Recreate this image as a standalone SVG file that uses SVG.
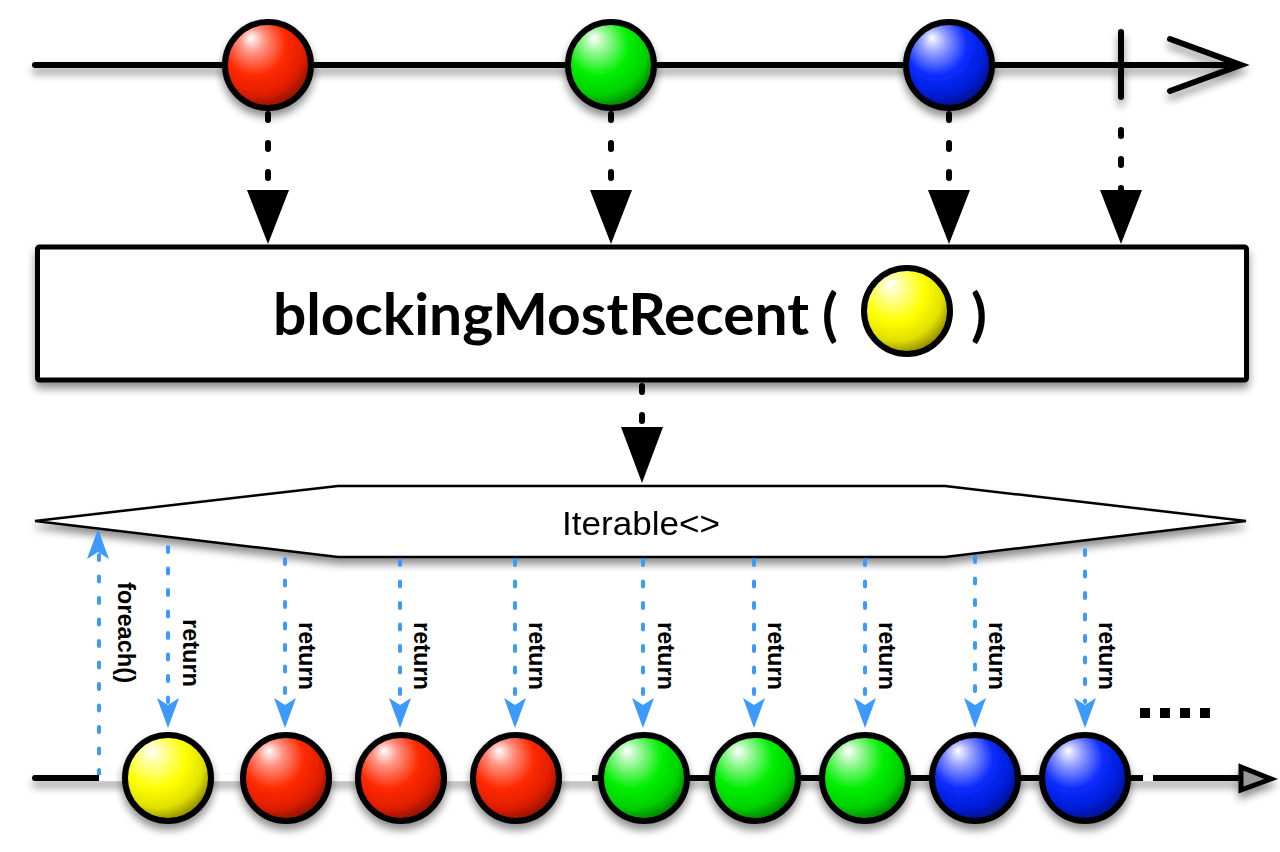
<svg xmlns="http://www.w3.org/2000/svg" width="1280" height="852" viewBox="0 0 1280 852">
<defs>
<filter id="sh" filterUnits="userSpaceOnUse" x="0" y="0" width="1280" height="852">
<feGaussianBlur in="SourceAlpha" stdDeviation="4"/>
<feOffset dy="6" result="o"/>
<feComponentTransfer><feFuncA type="linear" slope="0.45"/></feComponentTransfer>
<feMerge><feMergeNode/><feMergeNode in="SourceGraphic"/></feMerge>
</filter>
<radialGradient id="gR" cx="0.4" cy="0.35" r="0.72" fx="0.3" fy="0.18">
<stop offset="0" stop-color="#ffffff"/><stop offset="0.2" stop-color="#ff9484"/><stop offset="0.5" stop-color="#ff2a00"/><stop offset="0.75" stop-color="#e01e00"/><stop offset="1" stop-color="#6e0c00"/>
</radialGradient>
<radialGradient id="gG" cx="0.4" cy="0.35" r="0.72" fx="0.3" fy="0.18">
<stop offset="0" stop-color="#ffffff"/><stop offset="0.2" stop-color="#94f794"/><stop offset="0.5" stop-color="#00f000"/><stop offset="0.75" stop-color="#00d000"/><stop offset="1" stop-color="#005e00"/>
</radialGradient>
<radialGradient id="gB" cx="0.4" cy="0.35" r="0.72" fx="0.3" fy="0.18">
<stop offset="0" stop-color="#ffffff"/><stop offset="0.2" stop-color="#96a0ff"/><stop offset="0.5" stop-color="#0a2cff"/><stop offset="0.75" stop-color="#001ed8"/><stop offset="1" stop-color="#000a66"/>
</radialGradient>
<radialGradient id="gY" cx="0.4" cy="0.35" r="0.72" fx="0.3" fy="0.18">
<stop offset="0" stop-color="#ffffff"/><stop offset="0.2" stop-color="#ffff94"/><stop offset="0.5" stop-color="#ffff00"/><stop offset="0.75" stop-color="#e0e000"/><stop offset="1" stop-color="#6e6400"/>
</radialGradient>
</defs>
<style>
.ball{stroke:#000;stroke-width:6}
.line{stroke:#000;stroke-width:6;fill:none;stroke-linecap:round}
.bdash{stroke:#000;stroke-width:6;stroke-dasharray:6 23;stroke-linecap:round;fill:none}
.tri{fill:#000}
.blue{stroke:#3d99fb;stroke-width:4;stroke-dasharray:5 16.5;stroke-linecap:round;fill:none}
.bhead{fill:#3d99fb}
.lbl{font-family:"Liberation Sans",Arial,sans-serif;font-weight:bold;font-size:23px;fill:#000}
</style>
<rect width="1280" height="852" fill="#fff"/>

<g id="source-timeline" filter="url(#sh)">
<line x1="35" y1="65" x2="1238" y2="65" class="line"/>
<polyline points="1170,39 1241,65 1170,91" class="line" stroke-width="5"/>
<line x1="1121" y1="32" x2="1121" y2="97" class="line" stroke-width="5"/>
</g>
<g id="src-red" filter="url(#sh)"><circle cx="268" cy="65" r="43" fill="url(#gR)" class="ball"/></g>
<g id="src-green" filter="url(#sh)"><circle cx="611" cy="65" r="43" fill="url(#gG)" class="ball"/></g>
<g id="src-blue" filter="url(#sh)"><circle cx="949" cy="65" r="43" fill="url(#gB)" class="ball"/></g>

<g id="operator" filter="url(#sh)">
<rect x="37.5" y="247" width="1209" height="133" rx="2" fill="#fff" stroke="#000" stroke-width="5"/>
<text x="273" y="335" font-family="Lato,'Open Sans','Liberation Sans',sans-serif" font-weight="bold" font-size="58" textLength="536" lengthAdjust="spacingAndGlyphs">blockingMostRecent</text>
<text x="822" y="335" font-family="Lato,'Open Sans','Liberation Sans',sans-serif" font-weight="bold" font-size="58">(</text>
<text x="971" y="335" font-family="Lato,'Open Sans','Liberation Sans',sans-serif" font-weight="bold" font-size="58">)</text>
<circle cx="907" cy="311" r="43" fill="url(#gY)" class="ball"/>
</g>

<g id="iterable" filter="url(#sh)">
<polygon points="35,521 338,486 945,486 1246,521 945,557 338,557" fill="#fff" stroke="#000" stroke-width="2.5" stroke-linejoin="miter"/>
<text x="562" y="535" font-family="'Liberation Sans',Arial,sans-serif" font-size="34" textLength="158" lengthAdjust="spacingAndGlyphs">Iterable&lt;&gt;</text>
</g>

<g id="connectors">
<line x1="268" y1="114" x2="268" y2="190" class="bdash"/>
<polygon points="247,190 289,190 268,244" class="tri"/>
<line x1="611" y1="114" x2="611" y2="190" class="bdash"/>
<polygon points="590,190 632,190 611,244" class="tri"/>
<line x1="949" y1="114" x2="949" y2="190" class="bdash"/>
<polygon points="928,190 970,190 949,244" class="tri"/>
<line x1="1121" y1="130" x2="1121" y2="190" class="bdash"/>
<polygon points="1100,190 1142,190 1121,244" class="tri"/>
<line x1="642" y1="386" x2="642" y2="427" class="bdash"/>
<polygon points="621,427 663,427 642,483" class="tri"/>

<line x1="99" y1="775" x2="99" y2="555" class="blue"/>
<polygon points="98,529 109,559 98,552 87,559" class="bhead"/>
<text class="lbl" transform="translate(118,582) rotate(90)" textLength="101" lengthAdjust="spacingAndGlyphs">foreach()</text>

<g id="returns">
<line x1="168" y1="547" x2="168" y2="702" class="blue"/>
<polygon points="168,728 157,698 168,705 179,698" class="bhead"/>
<text class="lbl" transform="translate(183,619) rotate(90)" textLength="68" lengthAdjust="spacingAndGlyphs">return</text>
<line x1="285" y1="559" x2="285" y2="702" class="blue"/>
<polygon points="285,728 274,698 285,705 296,698" class="bhead"/>
<text class="lbl" transform="translate(299,622) rotate(90)" textLength="68" lengthAdjust="spacingAndGlyphs">return</text>
<line x1="400" y1="560" x2="400" y2="702" class="blue"/>
<polygon points="400,728 389,698 400,705 411,698" class="bhead"/>
<text class="lbl" transform="translate(414,622) rotate(90)" textLength="68" lengthAdjust="spacingAndGlyphs">return</text>
<line x1="515" y1="560" x2="515" y2="702" class="blue"/>
<polygon points="515,728 504,698 515,705 526,698" class="bhead"/>
<text class="lbl" transform="translate(529,622) rotate(90)" textLength="68" lengthAdjust="spacingAndGlyphs">return</text>
<line x1="643" y1="560" x2="643" y2="702" class="blue"/>
<polygon points="643,728 632,698 643,705 654,698" class="bhead"/>
<text class="lbl" transform="translate(658,622) rotate(90)" textLength="68" lengthAdjust="spacingAndGlyphs">return</text>
<line x1="754" y1="560" x2="754" y2="702" class="blue"/>
<polygon points="754,728 743,698 754,705 765,698" class="bhead"/>
<text class="lbl" transform="translate(768,622) rotate(90)" textLength="68" lengthAdjust="spacingAndGlyphs">return</text>
<line x1="865" y1="560" x2="865" y2="702" class="blue"/>
<polygon points="865,728 854,698 865,705 876,698" class="bhead"/>
<text class="lbl" transform="translate(879,622) rotate(90)" textLength="68" lengthAdjust="spacingAndGlyphs">return</text>
<line x1="975" y1="557" x2="975" y2="702" class="blue"/>
<polygon points="975,728 964,698 975,705 986,698" class="bhead"/>
<text class="lbl" transform="translate(989,622) rotate(90)" textLength="68" lengthAdjust="spacingAndGlyphs">return</text>
<line x1="1085" y1="550" x2="1085" y2="702" class="blue"/>
<polygon points="1085,728 1074,698 1085,705 1096,698" class="bhead"/>
<text class="lbl" transform="translate(1099,622) rotate(90)" textLength="68" lengthAdjust="spacingAndGlyphs">return</text>
</g>
</g>

<g id="result-timeline" filter="url(#sh)">
<line x1="35" y1="778" x2="1240" y2="778" class="line"/>
<line x1="99" y1="778" x2="592" y2="778" stroke="#fff" stroke-width="6"/>
<rect x="1143" y="775" width="10" height="6" fill="#fff"/>
<polygon points="1241,767 1271,779 1241,790" fill="#9a9a9a" stroke="#000" stroke-width="5" stroke-linejoin="miter"/>
</g>
<g id="res-1" filter="url(#sh)"><circle cx="168" cy="778" r="43" fill="url(#gY)" class="ball"/></g>
<g id="res-2" filter="url(#sh)"><circle cx="286" cy="778" r="43" fill="url(#gR)" class="ball"/></g>
<g id="res-3" filter="url(#sh)"><circle cx="401" cy="778" r="43" fill="url(#gR)" class="ball"/></g>
<g id="res-4" filter="url(#sh)"><circle cx="516" cy="778" r="43" fill="url(#gR)" class="ball"/></g>
<g id="res-5" filter="url(#sh)"><circle cx="644" cy="778" r="43" fill="url(#gG)" class="ball"/></g>
<g id="res-6" filter="url(#sh)"><circle cx="755" cy="778" r="43" fill="url(#gG)" class="ball"/></g>
<g id="res-7" filter="url(#sh)"><circle cx="865" cy="778" r="43" fill="url(#gG)" class="ball"/></g>
<g id="res-8" filter="url(#sh)"><circle cx="975" cy="778" r="43" fill="url(#gB)" class="ball"/></g>
<g id="res-9" filter="url(#sh)"><circle cx="1085" cy="778" r="43" fill="url(#gB)" class="ball"/></g>

<g id="ellipsis" fill="#000">
<rect x="1140" y="708" width="10" height="10"/>
<rect x="1160" y="708" width="10" height="10"/>
<rect x="1180" y="708" width="10" height="10"/>
<rect x="1200" y="708" width="10" height="10"/>
</g>
</svg>
